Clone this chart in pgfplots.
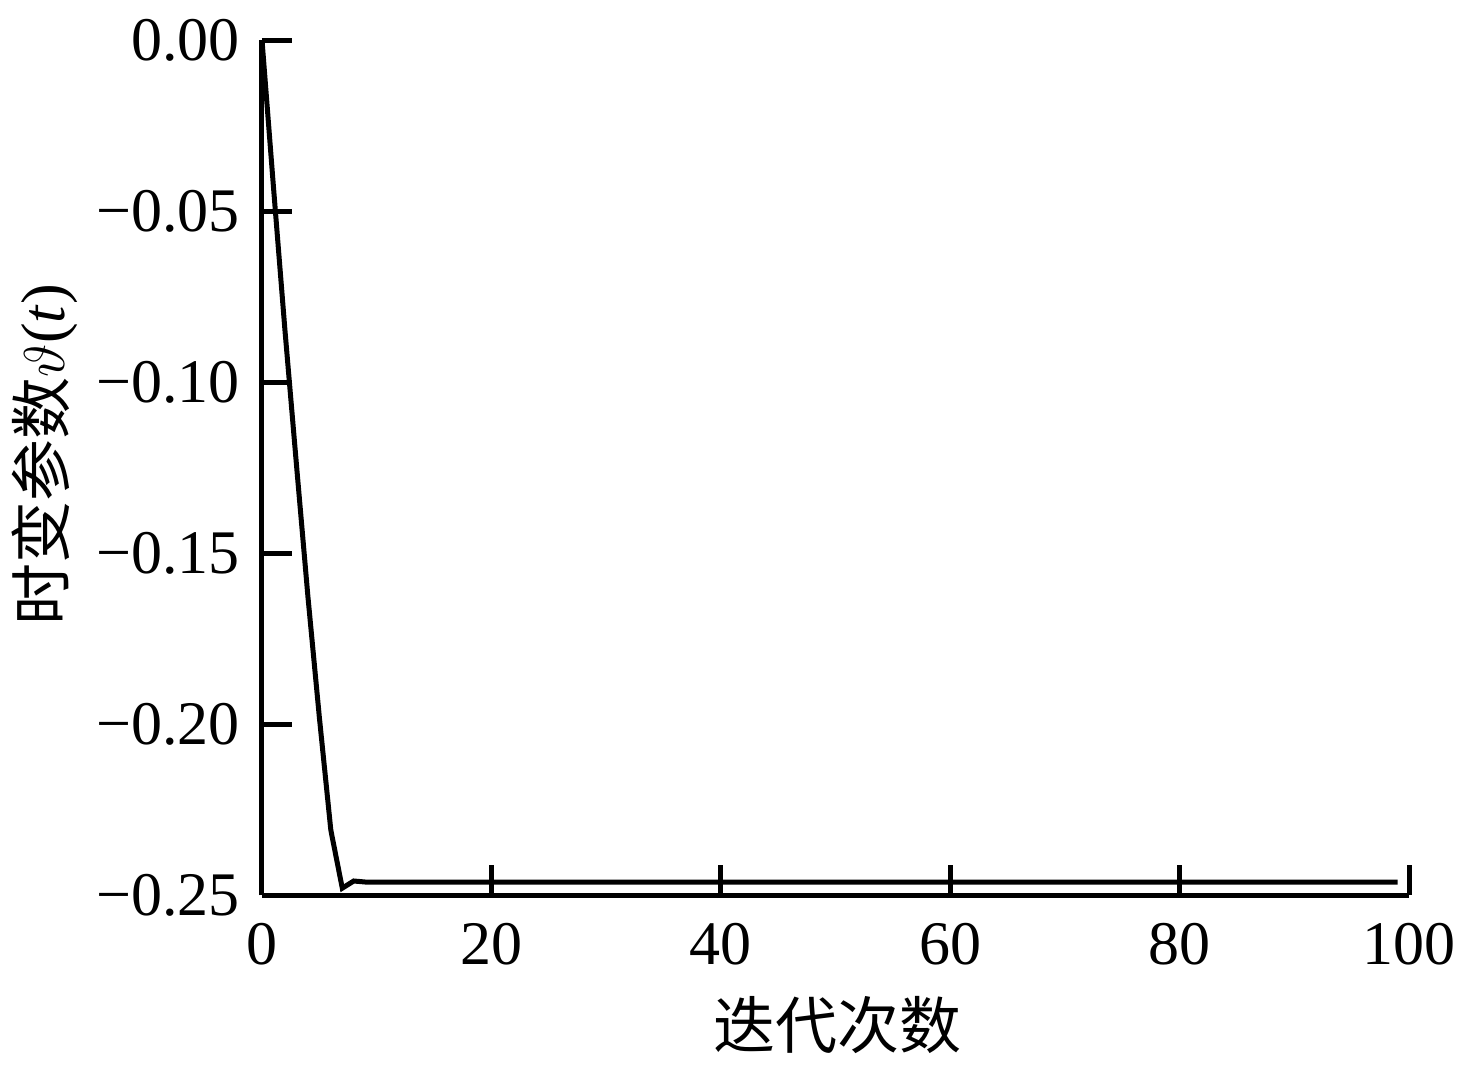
\documentclass[border=0pt]{standalone}
\usepackage{fontspec}
\setmainfont{Liberation Serif}
\newfontfamily\cjk{Noto Sans CJK SC}
\usepackage{pgfplots}
\pgfplotsset{compat=1.18}
\begin{document}
\begin{tikzpicture}
\useasboundingbox (-65.5pt,-42.25pt) rectangle (298.75pt,223.75pt);
\begin{axis}[
  at={(0,0)}, anchor=south west,
  scale only axis,
  width=286.75pt, height=213.75pt,
  xmin=0, xmax=100, ymin=-0.25, ymax=0,
  axis x line*=bottom, axis y line*=left,
  axis line style={line width=1.25pt},
  every tick/.style={black, line width=1.25pt},
  tick align=inside,
  major tick length=7.5pt,
  xtick={0,20,40,60,80,100},
  xticklabels={0,20,40,60,80,100},
  ytick={-0.25,-0.20,-0.15,-0.10,-0.05,0},
  yticklabels={−0.25,−0.20,−0.15,−0.10,−0.05,0.00},
  tick label style={font=\fontsize{15.5}{18}\selectfont},
  xticklabel style={yshift=-3.5pt},
  yticklabel style={xshift=-2pt},
  label style={font=\fontsize{15.5}{18}\selectfont},
  xlabel={\cjk 迭代次数},
  ylabel={{\cjk 时变参数}$\vartheta$(\textit{t})},
  xlabel style={at={(axis description cs:0.502,-0.152)}, anchor=center},
  ylabel style={at={(axis description cs:-0.189,0.515)}, anchor=center},
]
\addplot[black, line width=1.25pt] coordinates {
(0,0) (1,-0.043) (2,-0.0848) (3,-0.124) (4,-0.1626) (5,-0.198) (6,-0.231)
(7,-0.248) (8,-0.2459) (9,-0.2462) (10,-0.2462) (20,-0.2462) (30,-0.2462)
(40,-0.2462) (50,-0.2462) (60,-0.2462) (70,-0.2462) (80,-0.2462) (90,-0.2462) (99,-0.2462)
};
\end{axis}
\end{tikzpicture}
\end{document}
